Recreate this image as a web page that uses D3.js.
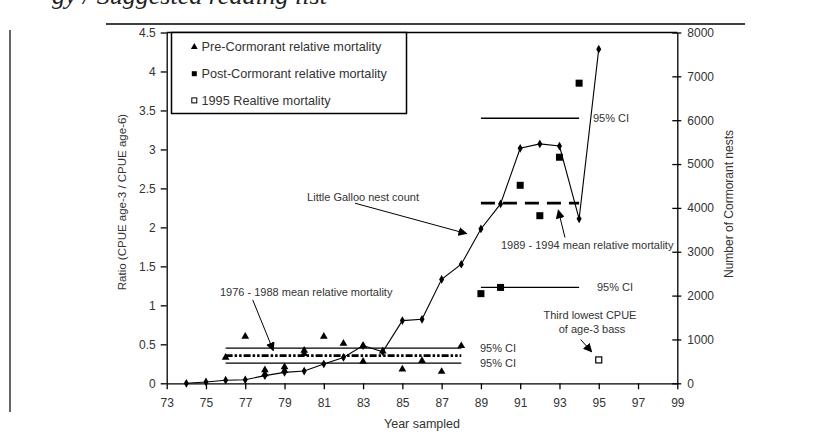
<!DOCTYPE html>
<html>
<head>
<meta charset="utf-8">
<script src="https://cdn.jsdelivr.net/npm/d3@7"></script>
<style>
  html, body { margin: 0; padding: 0; background: #fff; }
  svg { display: block; }
  text { font-family: "Liberation Sans", Arial, sans-serif; fill: #333; }
</style>
</head>
<body>
<svg id="chart" width="822" height="436"></svg>
<script>
// Year-sampled axis and tick labels
const yearTicks = [73, 75, 77, 79, 81, 83, 85, 87, 89, 91, 93, 95, 97, 99];
const ratioTicks = [0, 0.5, 1, 1.5, 2, 2.5, 3, 3.5, 4, 4.5];
const nestTicks = [0, 1000, 2000, 3000, 4000, 5000, 6000, 7000, 8000];

// Little Galloo nest count (right axis)
const nestYears = [74, 75, 76, 77, 78, 79, 80, 81, 82, 83, 84, 85, 86, 87, 88, 89, 90, 91, 92, 93, 94, 95];
const nestCounts = [0, 30, 70, 80, 175, 250, 280, 440, 590, 860, 720, 1430, 1460, 2370, 2715, 3520, 4090, 5360, 5460, 5410, 3750, 7620];

// Pre-Cormorant relative mortality, 1976-1988 (left axis)
const preYears = [76, 77, 78, 78, 79, 79, 80, 80, 81, 82, 83, 83, 84, 85, 86, 87, 88];
const preRatios = [0.33, 0.60, 0.12, 0.17, 0.16, 0.21, 0.38, 0.42, 0.60, 0.51, 0.28, 0.48, 0.41, 0.18, 0.29, 0.15, 0.48];

// Post-Cormorant relative mortality, 1989-1994
const postYears = [89, 90, 91, 92, 93, 94];
const postRatios = [1.15, 1.23, 2.54, 2.15, 2.90, 3.85];

// 1995 relative mortality
const y1995Years = [95];
const y1995Ratios = [0.30];

// Period means and 95% confidence limits: [from, to, mean, lower, upper]
const prePeriod = [76, 88, 0.355, 0.26, 0.45];
const postPeriod = [89, 94, 2.31, 1.23, 3.40];

const svg = d3.select("#chart");

const x = d3.scaleLinear().domain([73, 99]).range([166.7, 677.3]);
const yL = d3.scaleLinear().domain([0, 4.5]).range([383.3, 32.5]);
const yR = d3.scaleLinear().domain([0, 8000]).range([383.3, 32.5]);

// running head above the figure (its upper part runs off the page top)
svg.append("text")
  .attr("x", 52).attr("y", 4)
  .style("font-family", "'Liberation Serif', serif")
  .style("font-style", "italic")
  .style("font-size", "26px")
  .style("fill", "#222")
  .text("gy / Suggested reading list");
svg.append("line").attr("x1", 106).attr("x2", 745).attr("y1", 24).attr("y2", 24)
  .attr("stroke", "#000").attr("stroke-width", 1.6);
svg.append("line").attr("x1", 10).attr("x2", 10).attr("y1", 30).attr("y2", 412)
  .attr("stroke", "#000").attr("stroke-width", 1.2);

// frame top
svg.append("line").attr("x1", x(73)).attr("x2", x(99)).attr("y1", yL(4.5)).attr("y2", yL(4.5))
  .attr("stroke", "#000").attr("stroke-width", 1.3);

// axes
const axisStyle = g => {
  g.selectAll("path, line").attr("stroke", "#000").attr("stroke-width", 1.3);
  g.selectAll("text").style("font-size", "12px").style("fill", "#333")
    .style("font-family", "'Liberation Sans', Arial, sans-serif");
};

svg.append("g")
  .attr("transform", `translate(0,${yL(0)})`)
  .call(d3.axisBottom(x).tickValues(yearTicks).tickSize(6).tickSizeOuter(0).tickPadding(9).tickFormat(d3.format("d")))
  .call(axisStyle);

svg.append("g")
  .attr("transform", `translate(${x(73)},0)`)
  .call(d3.axisLeft(yL).tickValues(ratioTicks).tickSize(6).tickSizeOuter(0).tickPadding(5).tickFormat(d => String(d)))
  .call(axisStyle);

const rAxis = svg.append("g")
  .attr("transform", `translate(${x(99)},0)`)
  .call(d3.axisRight(yR).tickValues(nestTicks).tickSize(4).tickSizeOuter(0).tickPadding(6).tickFormat(d3.format("d")))
  .call(axisStyle);
rAxis.selectAll(".tick line").attr("x1", -5).attr("x2", 4);

// axis titles
svg.append("text")
  .attr("transform", `translate(121.5,202) rotate(-90)`)
  .attr("text-anchor", "middle").attr("dy", "0.35em")
  .style("font-size", "11.5px")
  .text("Ratio (CPUE age-3 / CPUE age-6)");
svg.append("text")
  .attr("transform", `translate(729,204) rotate(-90)`)
  .attr("text-anchor", "middle").attr("dy", "0.35em")
  .style("font-size", "12px")
  .text("Number of Cormorant nests");
svg.append("text")
  .attr("x", 422).attr("y", 428).attr("text-anchor", "middle")
  .style("font-size", "12.5px")
  .text("Year sampled");

// period mean and CI lines
const hline = (period, v, dash, w) => svg.append("line")
  .attr("x1", x(period[0])).attr("x2", x(period[1]))
  .attr("y1", yL(v)).attr("y2", yL(v))
  .attr("stroke", "#000").attr("stroke-width", w)
  .attr("stroke-dasharray", dash);
hline(prePeriod, prePeriod[3], null, 1.3);
hline(prePeriod, prePeriod[4], null, 1.3);
hline(prePeriod, prePeriod[2], "7,2,2.5,2,2.5,2", 2.6);
hline(postPeriod, postPeriod[3], null, 1.3);
hline(postPeriod, postPeriod[4], null, 1.3);
hline(postPeriod, postPeriod[2], "14,8", 2.8);

// nest count line
const nest = nestYears.map((yr, i) => ({ yr, v: nestCounts[i] }));
svg.append("path")
  .datum(nest)
  .attr("fill", "none").attr("stroke", "#000").attr("stroke-width", 1.1)
  .attr("d", d3.line().x(d => x(d.yr)).y(d => yR(d.v)));
svg.append("g").selectAll("path")
  .data(nest).join("path")
  .attr("transform", d => `translate(${x(d.yr)},${yR(d.v)})`)
  .attr("d", d3.symbol(d3.symbolDiamond, 22))
  .attr("fill", "#000");

// pre-cormorant triangles
svg.append("g").selectAll("path")
  .data(preYears.map((yr, i) => ({ yr, v: preRatios[i] })))
  .join("path")
  .attr("transform", d => `translate(${x(d.yr)},${yL(d.v)})`)
  .attr("d", d3.symbol(d3.symbolTriangle, 26))
  .attr("fill", "#000");

// post-cormorant squares
svg.append("g").selectAll("rect")
  .data(postYears.map((yr, i) => ({ yr, v: postRatios[i] })))
  .join("rect")
  .attr("x", d => x(d.yr) - 3.5).attr("y", d => yL(d.v) - 3.5)
  .attr("width", 7).attr("height", 7)
  .attr("fill", "#000");

// 1995 open square
svg.append("g").selectAll("rect")
  .data(y1995Years.map((yr, i) => ({ yr, v: y1995Ratios[i] })))
  .join("rect")
  .attr("x", d => x(d.yr) - 3).attr("y", d => yL(d.v) - 3)
  .attr("width", 6).attr("height", 6)
  .attr("fill", "#fff").attr("stroke", "#000").attr("stroke-width", 1.2);

// arrowhead marker
svg.append("defs").append("marker")
  .attr("id", "arrow").attr("viewBox", "0 0 10 10")
  .attr("refX", 9).attr("refY", 5)
  .attr("markerWidth", 9).attr("markerHeight", 9)
  .attr("markerUnits", "userSpaceOnUse")
  .attr("orient", "auto")
  .append("path").attr("d", "M0,0 L10,5 L0,10 Z").attr("fill", "#000");

const arrow = (x0, v0, x1, v1) => svg.append("line")
  .attr("x1", x(x0)).attr("y1", yL(v0)).attr("x2", x(x1)).attr("y2", yL(v1))
  .attr("stroke", "#000").attr("stroke-width", 1)
  .attr("marker-end", "url(#arrow)");
arrow(77.38, 1.07, 78.43, 0.42);
arrow(82.59, 2.31, 88.27, 1.92);
arrow(93.28, 1.87, 92.94, 2.22);
arrow(94.08, 0.56, 94.64, 0.405);

// annotations
const note = (tx, ty, s, anchor) => svg.append("text")
  .attr("x", tx).attr("y", ty).attr("text-anchor", anchor || "start")
  .style("font-size", "11px").text(s);
note(220, 295.5, "1976 - 1988 mean relative mortality");
note(419, 201, "Little Galloo nest count", "end");
note(501, 249, "1989 - 1994 mean relative mortality");
note(593, 122, "95% CI");
note(597, 291, "95% CI");
note(480, 352, "95% CI");
note(480, 367, "95% CI");
note(590, 319, "Third lowest CPUE", "middle");
note(592, 333, "of age-3 bass", "middle");

// legend
const legend = svg.append("g");
legend.append("rect")
  .attr("x", 171.5).attr("y", yL(4.5)).attr("width", 235).attr("height", 81)
  .attr("fill", "#fff").attr("stroke", "#000").attr("stroke-width", 1.5);
const legendItems = ["Pre-Cormorant relative mortality", "Post-Cormorant relative mortality", "1995 Realtive mortality"];
legendItems.forEach((label, i) => {
  const ly = 47 + i * 26.7;
  if (i === 0) {
    legend.append("path").attr("transform", `translate(194.3,${ly})`)
      .attr("d", d3.symbol(d3.symbolTriangle, 20)).attr("fill", "#000");
  } else if (i === 1) {
    legend.append("rect").attr("x", 191.8).attr("y", ly - 2.5).attr("width", 5).attr("height", 5).attr("fill", "#000");
  } else {
    legend.append("rect").attr("x", 191.8).attr("y", ly - 2.5).attr("width", 5).attr("height", 5)
      .attr("fill", "#fff").attr("stroke", "#000").attr("stroke-width", 1);
  }
  legend.append("text").attr("x", 201.5).attr("y", ly + 4.3)
    .style("font-size", "12.7px").text(label);
});
</script>
</body>
</html>
